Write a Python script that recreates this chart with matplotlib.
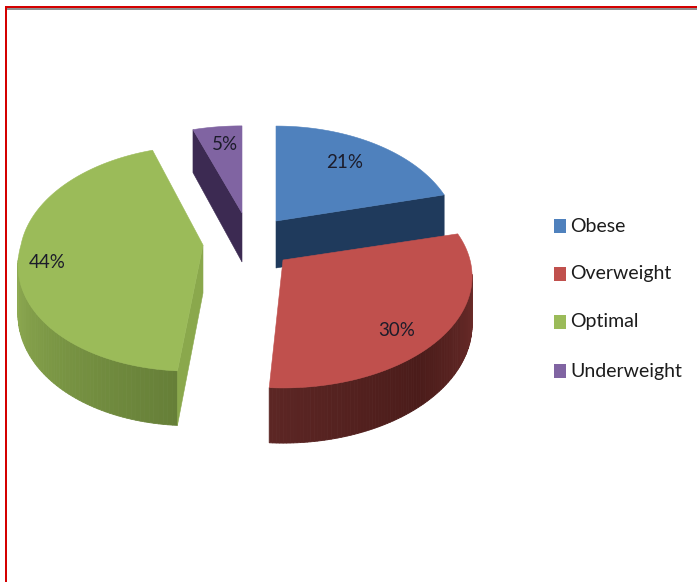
import numpy as np
from matplotlib import pyplot as plt
from matplotlib.colors import to_rgb
from matplotlib.patches import Polygon, Rectangle

categories = ['Obese', 'Overweight', 'Optimal', 'Underweight']
shares = [21, 30, 44, 5]
colors = ['#4f81bd', '#c0504d', '#9bbb59', '#8064a2']

# where each exploded slice sits in the picture
apex = [(276, 221), (283, 260), (203, 245), (242, 213)]
rx = [180, 187, 182, 181]
ry = [109, 109, 111, 100]
depth = [47, 47, 48, 49]
skew = [0, 0, -0.1, 0]
squeeze = [0.148, 0.148, 0.12, 0.148]  # perspective, far side of the pie is narrower
label_pos = [(345, 162), (397, 330), (47, 263), (225, 145)]
# colours of the rim, from the front edge round to the side
rim_colors = [('#1f3a5c', '#1f3a5c'), ('#6e2d2b', '#4b1c1a', '#5c2624'),
              ('#667f38', '#7a9644', '#8fab52'), ('#3c2a52', '#3c2a52')]
cut_colors = ['#1f3a5c', None, '#8aa84c', '#3c2a52']
cut_edge = [1, 0, 0, 0]
draw_order = [3, 0, 2, 1]


def project(i, theta, r=1.0, down=0.0):
    w = 1 + squeeze[i] * r * np.sin(theta)
    y = -ry[i] * r * np.sin(theta) / w
    x = rx[i] * r * np.cos(theta) / w + skew[i] * max(y, 0)
    return apex[i][0] + x, apex[i][1] + y + down / w


def ramp(stops, t):
    stops = [np.array(to_rgb(c)) for c in stops]
    pos = t * (len(stops) - 1)
    j = min(int(pos), len(stops) - 2)
    return tuple(stops[j] + (stops[j + 1] - stops[j]) * (pos - j))


fig = plt.figure(figsize=(6.97, 5.82), dpi=100)
ax = fig.add_axes([0, 0, 1, 1])
ax.set_xlim(0, 697)
ax.set_ylim(582, 0)
ax.axis('off')

# frame
ax.add_patch(Rectangle((5, 6), 692, 2, color='#d40000', lw=0))
ax.add_patch(Rectangle((7, 8), 690, 2.3, color='#8f8f8f', lw=0))
ax.add_patch(Rectangle((5, 6), 2, 576, color='#d40000', lw=0))

# angles run clockwise from twelve o'clock
edges = 90 - np.cumsum([0] + shares) * 3.6

for i in draw_order:
    start, end = np.radians(edges[i]), np.radians(edges[i + 1])
    thetas = np.linspace(start, end, 120)
    d = depth[i]

    # outer rim, split into strips for the shading
    front = [t for t in thetas if np.sin(t) < -squeeze[i] + 0.02]
    for n in range(len(front) - 1):
        t0, t1 = front[n], front[n + 1]
        p = [project(i, t0), project(i, t1), project(i, t1, down=d), project(i, t0, down=d)]
        c = ramp(rim_colors[i], n / max(len(front) - 2, 1))
        ax.add_patch(Polygon(p, closed=True, fc=c, ec=c, lw=0.6))

    # cut face turned towards the viewer
    if cut_colors[i]:
        cut = end if cut_edge[i] else start
        p = [project(i, cut, 0), project(i, cut), project(i, cut, down=d), project(i, cut, 0, down=d)]
        ax.add_patch(Polygon(p, closed=True, fc=cut_colors[i], ec=cut_colors[i], lw=0.4))

    # top of the slice
    top = [project(i, 0, 0)] + [project(i, t) for t in thetas]
    ax.add_patch(Polygon(top, closed=True, fc=colors[i], ec=colors[i], lw=0.4))

for i in range(len(shares)):
    ax.text(label_pos[i][0], label_pos[i][1], str(shares[i]) + '%', ha='center', va='center',
            fontsize=13.5, family='Lato', color='#1c1c2a')

# legend
legend_y = [226, 274, 322, 371]
for i in range(len(categories)):
    ax.add_patch(Rectangle((554, legend_y[i] - 7), 12, 14, color=colors[i], lw=0))
    ax.text(570, legend_y[i], categories[i], ha='left', va='center',
            fontsize=14, family='Lato', color='#1c1c1c')

fig.savefig('out.png', dpi=100)
